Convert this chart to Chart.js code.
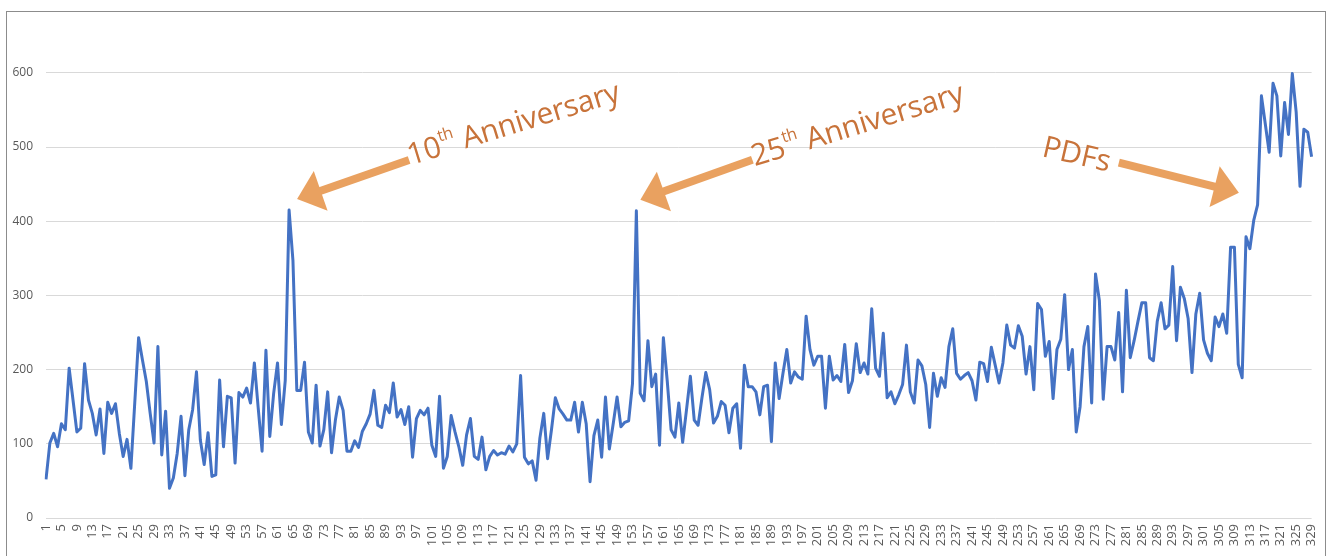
<!DOCTYPE html>
<html>
<head>
<meta charset="utf-8">
<script src="https://cdn.jsdelivr.net/npm/chart.js@4/dist/chart.umd.min.js"></script>
<style>
  html, body { margin: 0; padding: 0; background: #ffffff; overflow: hidden; }
  #wrap { position: relative; width: 1335px; height: 556px; }
  #frame { position: absolute; left: 6px; top: 11px; width: 1320px; height: 600px; border: 1px solid #8c8c8c; box-sizing: border-box; pointer-events: none; }
  canvas { position: absolute; left: 0; top: 0; }
  .note { position: absolute; font-family: "Open Sans", sans-serif; font-size: 30px; line-height: 1; color: #C8733A; white-space: nowrap; transform-origin: 0 100%; letter-spacing: -0.2px; }
  .note sup { font-size: 55%; vertical-align: 0; position: relative; top: -0.85em; }
</style>
</head>
<body>
<div id="wrap">
  <canvas id="c" width="1335" height="556"></canvas>
  <div id="frame"></div>
  <div class="note" id="n1" style="left:412px; top:139px; transform: rotate(-17deg);">10<sup>th</sup> Anniversary</div>
  <div class="note" id="n2" style="left:756px; top:140px; transform: rotate(-17deg);">25<sup>th</sup> Anniversary</div>
  <div class="note" id="n3" style="left:1040px; top:130px; transform: rotate(13deg);">PDFs</div>
</div>
<script>
// Values (issues 1..329)
const valuesPart1 = [
  52,101,114,96,127,119,202,159,116,121,208,159,141,112,147,87,156,141,154,114,
  83,106,67,155,243,213,184,141,101,231,85,144,40,54,87,137,57,119,146,197,
  105,72,115,56,58,186,96,164,162,74,169,163,175,155,209,148,90,226,110,168,
  209,126,185,415,347,172,172,210,116,101,179,97,119,170,88,132,163,145,90,90,
  104,95,117,127,140,172,125,122,152,142,182,136,146,126,150,82,134,145,139,148,
  98,83,164,67,83,138,116,96,71,112
];
const valuesPart2 = [
  134,83,79,109,65,83,91,85,88,86,97,89,100,192,82,73,77,51,108,141,
  80,119,162,147,140,132,132,156,116,156,127,49,111,132,82,163,93,127,163,123,
  129,131,181,414,168,158,239,177,194,98,243,185,119,109,155,102,146,191,132,125,
  162,196,173,128,137,157,152,115,148,154,94,206,177,177,170,139,177,179,103,209,
  161,195,227,182,197,190,187,272,227,206,218,218,148,218,186,192,184,234,169,185,
  235,196,209,194,282,202,191,249,162,170
];
const valuesPart3 = [
  154,166,180,233,170,155,213,205,180,122,195,164,189,176,231,255,195,187,192,196,
  185,159,210,208,184,230,206,182,209,260,233,229,259,245,194,231,173,289,281,218,
  238,161,227,241,301,200,227,116,150,231,258,155,329,293,160,231,231,213,277,170,
  307,216,239,265,290,290,216,212,265,290,255,260,339,239,311,296,269,196,275,303,
  240,222,212,271,258,275,249,365,365,207,189,379,363,401,422,569,531,493,586,569,
  488,560,517,599,547,447,524,520,487
];
const values = valuesPart1.concat(valuesPart2, valuesPart3);
const categories = values.map((_, i) => String(i + 1));
const yTickValues = [0, 100, 200, 300, 400, 500, 600];
const yMax = 682;

// arrows anchored to the annotated data points (category index), offsets in px
const arrowDefs = [
  { at: 63,  tip: [8, -11],   tail: [120, -50] },
  { at: 153, tip: [4, -11],   tail: [116, -51] },
  { at: 312, tip: [-11, -56], tail: [-131, -86] }
];

const arrowPlugin = {
  id: 'arrows',
  afterDraw(chart) {
    const ctx = chart.ctx;
    const xs = chart.scales.x, ys = chart.scales.y;
    ctx.save();
    ctx.fillStyle = '#E9A160';
    ctx.strokeStyle = '#E9A160';
    arrowDefs.forEach(a => {
      const px = xs.getPixelForValue(a.at);
      const py = ys.getPixelForValue(values[a.at]);
      const tx = px + a.tip[0], ty = py + a.tip[1];
      const sx = px + a.tail[0], sy = py + a.tail[1];
      const ang = Math.atan2(ty - sy, tx - sx);
      const headLen = 25, headW = 21;
      const bx = tx - headLen * Math.cos(ang), by = ty - headLen * Math.sin(ang);
      ctx.lineWidth = 8;
      ctx.lineCap = 'butt';
      ctx.beginPath();
      ctx.moveTo(sx, sy);
      ctx.lineTo(bx + 2 * Math.cos(ang), by + 2 * Math.sin(ang));
      ctx.stroke();
      ctx.beginPath();
      ctx.moveTo(tx, ty);
      ctx.lineTo(bx + headW * Math.sin(ang), by - headW * Math.cos(ang));
      ctx.lineTo(bx - headW * Math.sin(ang), by + headW * Math.cos(ang));
      ctx.closePath();
      ctx.fill();
    });
    ctx.restore();
  }
};

new Chart(document.getElementById('c'), {
  type: 'line',
  data: {
    labels: categories,
    datasets: [{
      data: values,
      borderColor: '#4472C4',
      borderWidth: 3,
      pointRadius: 0,
      tension: 0,
      fill: false,
      borderJoinStyle: 'round'
    }]
  },
  options: {
    responsive: false,
    animation: false,
    devicePixelRatio: 1,
    layout: { padding: { left: 0, right: 23.4, top: 12, bottom: 0 } },
    plugins: { legend: { display: false }, tooltip: { enabled: false } },
    scales: {
      x: {
        type: 'category',
        offset: false,
        grid: { display: false, drawTicks: false },
        border: { display: false },
        ticks: {
          autoSkip: false,
          maxRotation: 90,
          minRotation: 90,
          padding: 6,
          font: { family: 'Open Sans', size: 13 },
          color: '#595959',
          callback: (v, i) => (i % 4 === 0 ? categories[i] : null)
        },
        afterFit: s => { s.height = 38; }
      },
      y: {
        min: 0,
        max: yMax,
        grid: { color: '#d9d9d9', lineWidth: 1, drawTicks: false },
        border: { display: false },
        afterBuildTicks: s => { s.ticks = yTickValues.map(v => ({ value: v })); },
        ticks: { padding: 13, font: { family: 'Open Sans', size: 12 }, color: '#595959' },
        afterFit: s => { s.width = 46; s.paddingTop = 0; s.paddingBottom = 0; }
      }
    }
  },
  plugins: [arrowPlugin]
});
</script>
</body>
</html>
